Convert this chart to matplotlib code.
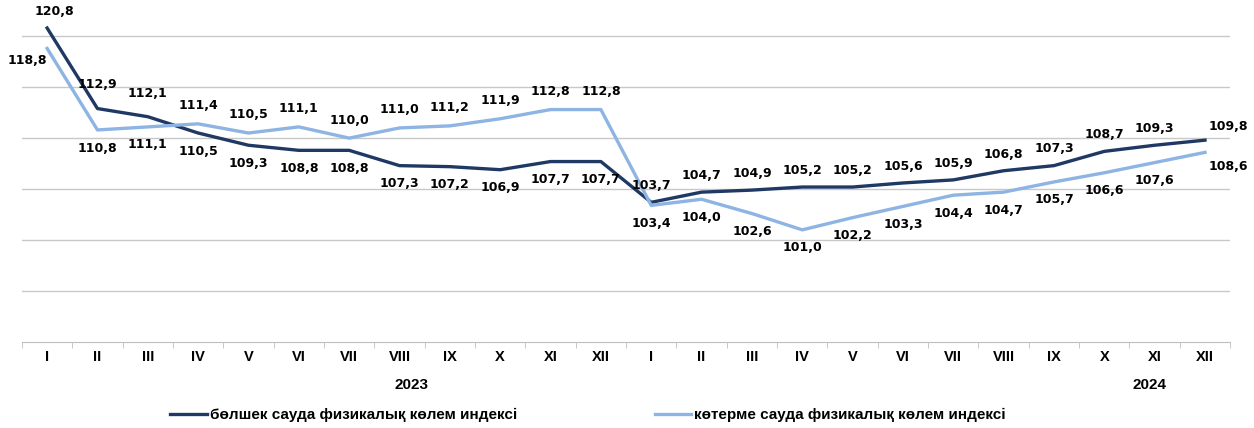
import matplotlib.pyplot as plt

# data
months = ["I", "II", "III", "IV", "V", "VI", "VII", "VIII", "IX", "X", "XI", "XII"] * 2
retail = [120.8, 112.9, 112.1, 110.5, 109.3, 108.8, 108.8, 107.3, 107.2, 106.9, 107.7, 107.7,
          103.7, 104.7, 104.9, 105.2, 105.2, 105.6, 105.9, 106.8, 107.3, 108.7, 109.3, 109.8]
wholesale = [118.8, 110.8, 111.1, 111.4, 110.5, 111.1, 110.0, 111.0, 111.2, 111.9, 112.8, 112.8,
             103.4, 104.0, 102.6, 101.0, 102.2, 103.3, 104.4, 104.7, 105.7, 106.6, 107.6, 108.6]
years = ["2023", "2024"]
retail_name = "бөлшек сауда физикалық көлем индексі"
wholesale_name = "көтерме сауда физикалық көлем индексі"

dark = "#1F3864"
light = "#8DB4E2"

fig = plt.figure(figsize=(12.54, 4.28), dpi=100)
ax = fig.add_axes([0.0175, 0.201, 0.9635, 0.774])

x = list(range(len(months)))
ax.plot(x, retail, color=dark, lw=2.4, label=retail_name, solid_joinstyle="round")
ax.plot(x, wholesale, color=light, lw=2.4, label=wholesale_name, solid_joinstyle="round")

ax.set_xlim(-0.5, len(months) - 0.5)
ax.set_ylim(90, 122.5)
ax.set_yticks([95, 100, 105, 110, 115, 120])
ax.yaxis.grid(True, color="#C8C8C8", lw=1)
ax.set_axisbelow(True)
ax.tick_params(axis="y", left=False, labelleft=False)
for s in ["top", "right", "left"]:
    ax.spines[s].set_visible(False)
ax.spines["bottom"].set_color("#BFBFBF")

ax.set_xticks(x)
ax.set_xticklabels(months, fontfamily="Liberation Sans", fontweight="bold", fontsize=10.5)
ax.tick_params(axis="x", length=0, pad=6)
ax.set_xticks([i - 0.5 for i in range(len(months) + 1)], minor=True)
ax.tick_params(axis="x", which="minor", length=4, color="#BFBFBF")

lab = dict(fontfamily="DejaVu Sans", fontweight="bold", fontsize=9, ha="center", va="center",
           textcoords="offset points")
for i in x:
    r = f"{retail[i]:.1f}".replace(".", ",")
    w = f"{wholesale[i]:.1f}".replace(".", ",")
    if 3 <= i <= 11:
        ax.annotate(r, (i, retail[i]), xytext=(0, -13), **lab)
        ax.annotate(w, (i, wholesale[i]), xytext=(0, 13), **lab)
    elif i == 0:
        ax.annotate(r, (i, retail[i]), xytext=(5, 12), **lab)
        ax.annotate(w, (i, wholesale[i]), xytext=(-14, -9), **lab)
    elif i == len(x) - 1:
        ax.annotate(r, (i, retail[i]), xytext=(17, 10), **lab)
        ax.annotate(w, (i, wholesale[i]), xytext=(17, -10), **lab)
    elif i in (1, 2):
        ax.annotate(r, (i, retail[i]), xytext=(0, 17), **lab)
        ax.annotate(w, (i, wholesale[i]), xytext=(0, -13), **lab)
    else:
        ax.annotate(r, (i, retail[i]), xytext=(0, 12), **lab)
        ax.annotate(w, (i, wholesale[i]), xytext=(0, -13), **lab)

ax.text(7.23, -0.13, years[0], transform=ax.get_xaxis_transform(), ha="center", va="center",
        fontfamily="Liberation Sans", fontweight="bold", fontsize=11)
ax.text(21.9, -0.13, years[1], transform=ax.get_xaxis_transform(), ha="center", va="center",
        fontfamily="Liberation Sans", fontweight="bold", fontsize=11)

fig.legend(loc="center", bbox_to_anchor=(588 / 1254, 1 - 415 / 428), ncol=2, frameon=False,
           handlelength=2.4, handletextpad=0.2, columnspacing=9.0,
           prop={"family": "Liberation Sans", "weight": "bold", "size": 11})

fig.savefig("out.png", dpi=100)
